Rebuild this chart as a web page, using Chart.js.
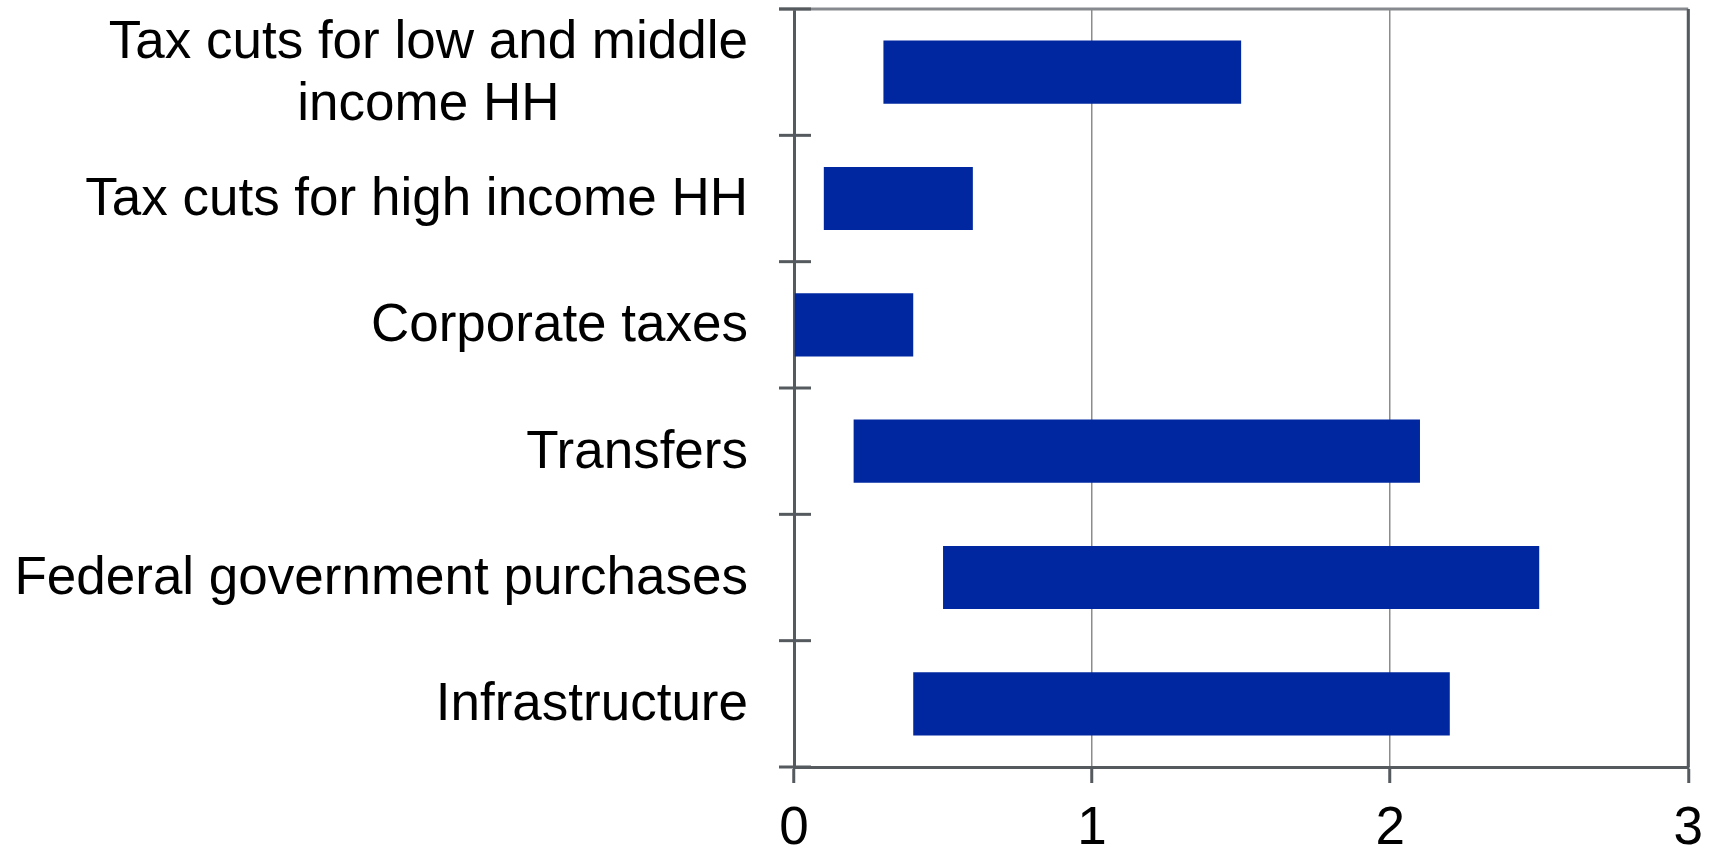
<!DOCTYPE html>
<html>
<head>
<meta charset="utf-8">
<script src="https://cdn.jsdelivr.net/npm/chart.js@4"></script>
<style>
  body { margin: 0; background: #fff; }
  #wrap { width: 1718px; height: 850px; }
</style>
</head>
<body>
<div id="wrap"><canvas id="myChart" width="1718" height="850"></canvas></div>
<script>
// dados
var categorias = [
    ['Tax cuts for low and middle', 'income HH'],
    ['Tax cuts for high income HH'],
    ['Corporate taxes'],
    ['Transfers'],
    ['Federal government purchases'],
    ['Infrastructure']
];
var inicio = [0.3, 0.1, 0.0, 0.2, 0.5, 0.4];
var fim = [1.5, 0.6, 0.4, 2.1, 2.5, 2.2];
var ticksX = [0, 1, 2, 3];

var corBarra = '#00279f';
var corEixo = '#555a5f';
var fonte = '"Liberation Sans", Arial, sans-serif';

var faixas = inicio.map(function (v, i) { return [v, fim[i]]; });

// desenha moldura, tracinhos do eixo y e os rotulos centralizados
var extras = {
    id: 'extras',
    afterDraw: function (chart) {
        var c = chart.ctx;
        var a = chart.chartArea;
        var y = chart.scales.y;
        c.save();
        // moldura superior e direita
        c.lineWidth = 3;
        c.strokeStyle = '#86898d';
        c.beginPath();
        c.moveTo(a.left - 15, a.top);
        c.lineTo(a.right, a.top);
        c.stroke();
        c.strokeStyle = corEixo;
        c.beginPath();
        c.moveTo(a.right, a.top);
        c.lineTo(a.right, a.bottom);
        c.stroke();
        // tracinhos nas divisoes das categorias
        var n = categorias.length;
        for (var i = 0; i <= n; i++) {
            var py = y.top + i * (y.height / n);
            c.beginPath();
            c.moveTo(a.left - 15, py);
            c.lineTo(a.left + 17, py);
            c.stroke();
        }
        // rotulos
        c.fillStyle = '#000';
        c.font = '53px ' + fonte;
        c.textBaseline = 'middle';
        c.textAlign = 'center';
        var lh = 62;
        categorias.forEach(function (linhas, i) {
            var cy = y.getPixelForValue(i);
            var larg = 0;
            linhas.forEach(function (t) { larg = Math.max(larg, c.measureText(t).width); });
            var cx = 748 - larg / 2;
            var y0 = cy - (linhas.length - 1) * lh / 2;
            linhas.forEach(function (t, k) {
                c.fillText(t, cx, y0 + k * lh + 2);
            });
        });
        c.restore();
    }
};

var ctx = document.getElementById('myChart').getContext('2d');
var myChart = new Chart(ctx, {
    type: 'bar',
    data: {
        labels: categorias.map(function (l) { return l.join(' '); }),
        datasets: [{
            data: faixas,
            backgroundColor: corBarra,
            borderWidth: 0,
            barPercentage: 0.5,
            categoryPercentage: 1.0
        }]
    },
    options: {
        indexAxis: 'y',
        responsive: false,
        animation: false,
        layout: { padding: { top: 9, right: 28, left: 0, bottom: 0 } },
        plugins: {
            legend: { display: false },
            tooltip: { enabled: false }
        },
        scales: {
            x: {
                min: 0,
                max: 3,
                afterBuildTicks: function (s) {
                    s.ticks = ticksX.map(function (v) { return { value: v }; });
                },
                afterFit: function (s) { s.height = 83; },
                grid: {
                    color: '#8c8c8c',
                    lineWidth: 1.5,
                    drawTicks: true,
                    tickLength: 16,
                    tickColor: corEixo,
                    tickWidth: 3
                },
                border: { display: true, color: corEixo, width: 3 },
                ticks: {
                    color: '#000',
                    padding: 15,
                    font: { family: fonte, size: 53 }
                }
            },
            y: {
                afterFit: function (s) { s.width = 794; },
                grid: { display: false, drawTicks: false },
                border: { display: true, color: corEixo, width: 3 },
                ticks: { display: false }
            }
        }
    },
    plugins: [extras]
});
</script>
</body>
</html>
